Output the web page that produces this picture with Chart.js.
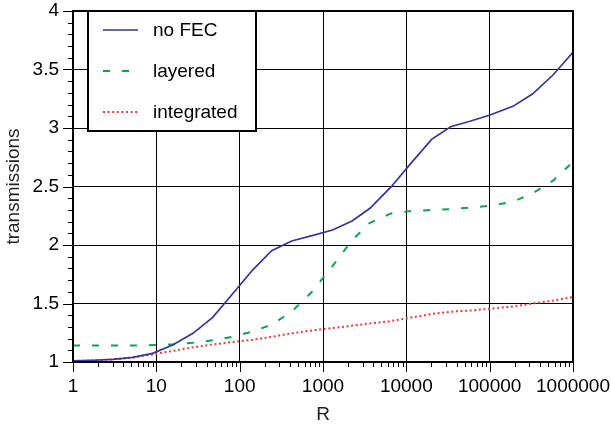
<!DOCTYPE html>
<html>
<head>
<meta charset="utf-8">
<script src="https://cdn.jsdelivr.net/npm/chart.js@4/dist/chart.umd.min.js"></script>
<style>
  html, body { margin: 0; padding: 0; background: #fff; }
</style>
</head>
<body>
<canvas id="chart" width="611" height="430"></canvas>
<script>
// ---- data ----
const rValues = [1, 1.74, 3, 5.2, 9, 15.7, 27.5, 47.5, 81, 143, 242, 421, 738, 1300, 2230,
  3660, 6550, 11400, 20100, 34000, 58000, 101000, 190000, 326000, 575000, 1000000];

const noFec = [1.01, 1.015, 1.023, 1.04, 1.074, 1.145, 1.245, 1.382, 1.577, 1.786, 1.951, 2.034, 2.08,
  2.128, 2.205, 2.314, 2.496, 2.70, 2.903, 3.011, 3.058, 3.111, 3.185, 3.29, 3.453, 3.647];

const layered = [1.14, 1.14, 1.14, 1.14, 1.145, 1.15, 1.165, 1.185, 1.215, 1.26, 1.32, 1.43, 1.60,
  1.82, 2.04, 2.19, 2.27, 2.29, 2.30, 2.305, 2.32, 2.335, 2.37, 2.44, 2.55, 2.71];

const integrated = [1.01, 1.013, 1.022, 1.037, 1.065, 1.095, 1.125, 1.15, 1.17, 1.19, 1.215, 1.245, 1.27,
  1.29, 1.31, 1.33, 1.35, 1.38, 1.41, 1.43, 1.44, 1.455, 1.475, 1.50, 1.525, 1.555];

const xMajorTicks = [1, 10, 100, 1000, 10000, 100000, 1000000];
const xTickLabels = ['1', '10', '100', '1000', '10000', '100000', '1000000'];
const yTickValues = [1, 1.5, 2, 2.5, 3, 3.5, 4];
const yTickLabels = ['1', '1.5', '2', '2.5', '3', '3.5', '4'];

const FONT = "'Liberation Sans', Arial, sans-serif";

function pts(ys) {
  return rValues.map((r, i) => ({ x: r, y: ys[i] }));
}

// all decade ticks (1..9 x 10^e) for the log axis
function logTicks() {
  const out = [];
  for (let e = 0; e < 6; e++) {
    for (let s = 1; s <= 9; s++) out.push(s * Math.pow(10, e));
  }
  out.push(1000000);
  return out;
}

// frame, tick marks and legend box
const framePlugin = {
  id: 'frame',
  afterDraw(chart) {
    const { ctx, chartArea: a, scales } = chart;
    ctx.save();
    ctx.strokeStyle = '#000';
    ctx.lineWidth = 1;
    ctx.beginPath();
    scales.x.ticks.forEach(t => {
      const px = Math.round(scales.x.getPixelForValue(t.value)) + 0.5;
      const len = xMajorTicks.includes(t.value) ? 10 : 5;
      ctx.moveTo(px, a.bottom);
      ctx.lineTo(px, a.bottom + len);
    });
    for (let k = 10; k <= 40; k++) {
      const v = k / 10;
      const py = Math.round(scales.y.getPixelForValue(v)) + 0.5;
      const len = k % 5 === 0 ? 10 : 5;
      ctx.moveTo(a.left, py);
      ctx.lineTo(a.left - len, py);
    }
    ctx.stroke();

    ctx.lineWidth = 2;
    ctx.strokeRect(a.left, a.top, a.right - a.left, a.bottom - a.top);

    // legend
    const bx = a.left + 15, by = a.top, bw = 168, bh = 120;
    ctx.fillStyle = '#fff';
    ctx.fillRect(bx, by, bw, bh);
    ctx.strokeRect(bx, by, bw, bh);
    ctx.font = '19px ' + FONT;
    ctx.textBaseline = 'middle';
    chart.data.datasets.forEach((ds, i) => {
      const y = by + 19 + i * 41;
      ctx.beginPath();
      ctx.strokeStyle = ds.borderColor;
      ctx.lineWidth = ds.borderWidth;
      ctx.setLineDash(ds.borderDash || []);
      ctx.moveTo(bx + 15, y);
      ctx.lineTo(bx + 50, y);
      ctx.stroke();
      ctx.setLineDash([]);
      ctx.fillStyle = '#000';
      ctx.fillText(ds.label, bx + 65, y + 1);
    });
    ctx.restore();
  }
};

new Chart(document.getElementById('chart'), {
  type: 'line',
  data: {
    datasets: [
      { label: 'no FEC', data: pts(noFec), borderColor: '#35359b', borderWidth: 1.7,
        pointRadius: 0, tension: 0, fill: false },
      { label: 'layered', data: pts(layered), borderColor: '#0ba552', borderWidth: 2,
        borderDash: [7, 12], pointRadius: 0, tension: 0, fill: false },
      { label: 'integrated', data: pts(integrated), borderColor: '#f23a3a', borderWidth: 2,
        borderDash: [2, 2.6], pointRadius: 0, tension: 0, fill: false }
    ]
  },
  options: {
    responsive: false,
    animation: false,
    layout: { padding: { left: 0, right: 38, top: 11, bottom: 0 } },
    plugins: { legend: { display: false }, tooltip: { enabled: false } },
    scales: {
      x: {
        type: 'logarithmic',
        min: 1,
        max: 1000000,
        afterBuildTicks: scale => {
          scale.ticks = logTicks().map(v => ({ value: v }));
        },
        afterFit: scale => {
          scale.height = 68;
          scale.paddingLeft = 0;
          scale.paddingRight = 0;
        },
        ticks: {
          autoSkip: false,
          maxRotation: 0,
          padding: 3,
          color: '#000',
          font: { family: FONT, size: 19 },
          callback: v => {
            const i = xMajorTicks.indexOf(v);
            return i >= 0 ? xTickLabels[i] : '';
          }
        },
        grid: {
          color: c => (c.tick && xMajorTicks.includes(c.tick.value)) ? '#000' : 'rgba(0,0,0,0)',
          tickColor: 'rgba(0,0,0,0)',
          tickLength: 10,
          lineWidth: 1
        },
        border: { display: false },
        title: { display: true, text: 'R', color: '#222', font: { family: FONT, size: 19 },
          padding: { top: 0, bottom: 4 } }
      },
      y: {
        min: 1,
        max: 4,
        afterBuildTicks: scale => {
          scale.ticks = yTickValues.map(v => ({ value: v }));
        },
        afterFit: scale => {
          scale.width = 73;
          scale.paddingTop = 0;
          scale.paddingBottom = 0;
        },
        ticks: {
          padding: 4,
          color: '#000',
          font: { family: FONT, size: 19 },
          callback: v => {
            const i = yTickValues.indexOf(v);
            return i >= 0 ? yTickLabels[i] : '';
          }
        },
        grid: { color: '#000', tickColor: 'rgba(0,0,0,0)', tickLength: 10, lineWidth: 1 },
        border: { display: false },
        title: { display: true, text: 'transmissions', color: '#222', font: { family: FONT, size: 19 },
          padding: { top: 2, bottom: 0 } }
      }
    }
  },
  plugins: [framePlugin]
});
</script>
</body>
</html>
